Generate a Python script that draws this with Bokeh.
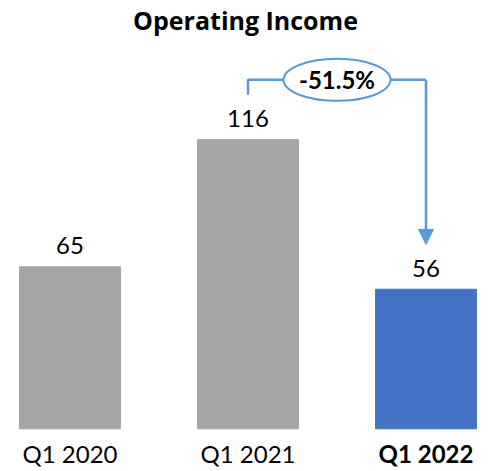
from bokeh.plotting import figure
from bokeh.models import ColumnDataSource, Range1d, Arrow, NormalHead
from bokeh.core.properties import value
from bokeh.embed import file_html
from bokeh.resources import INLINE

categories = ["Q1 2020", "Q1 2021", "Q1 2022"]
values = [65, 116, 56]
value_labels = ["65", "116", "56"]
label_styles = ["normal", "normal", "bold"]
bar_colors = ["#A5A5A5", "#A5A5A5", "#4472C4"]
change_label = "-51.5%"

FONT = "Lato"
ACCENT = "#5B9BD5"

xs = list(range(len(categories)))
src = ColumnDataSource(dict(x=xs, top=values, color=bar_colors, cat=categories,
                            vlab=value_labels, style=label_styles))

W, H = 490, 471
p = figure(width=W, height=H, output_backend="svg", toolbar_location=None,
           x_range=Range1d(-0.3904, 2.3624), y_range=Range1d(-17.13, 157.4),
           min_border=0)
p.title.text = "Operating Income"
p.title.align = "center"
p.title.text_font = "Open Sans"
p.title.text_font_size = "25px"
p.title.text_font_style = "bold"
p.title.text_color = "#000000"
p.title.standoff = 0
p.title.offset = 0
p.axis.visible = False
p.grid.visible = False
p.outline_line_color = None

p.vbar(x="x", top="top", bottom=0, width=0.567, color="color", source=src)

p.text(x="x", y="top", text="vlab", source=src, text_align="center",
       text_baseline="alphabetic", y_offset=-21, text_font=value(FONT),
       text_font_size="24px", text_color="#000000")
p.text(x="x", y=0, text="cat", source=src, text_align="center",
       text_baseline="alphabetic", y_offset=25, text_font=value(FONT),
       text_font_size="24px", text_font_style="style", text_color="#000000")

# change bracket from Q1 2021 to Q1 2022
start_y = values[1] + 18
top_y = values[1] + 24
tip_y = values[2] + 18
p.line(x=[xs[1], xs[1], xs[2]], y=[start_y, top_y, top_y], line_color=ACCENT,
       line_width=2.5)
p.add_layout(Arrow(end=NormalHead(size=15, fill_color=ACCENT, line_color=ACCENT),
                   x_start=xs[2], y_start=top_y, x_end=xs[2], y_end=tip_y,
                   line_color=ACCENT, line_width=2.5))
mid_x = (xs[1] + xs[2]) / 2
p.ellipse(x=[mid_x], y=[top_y], width=107, height=42, width_units="screen",
          height_units="screen", fill_color="white", line_color=ACCENT,
          line_width=2)
p.text(x=[mid_x], y=[top_y], text=[change_label], text_align="center",
       text_baseline="middle", text_font=value(FONT), text_font_size="24px",
       text_font_style="bold", text_color="#000000")

open("out.html", "w").write(file_html(p, INLINE))
